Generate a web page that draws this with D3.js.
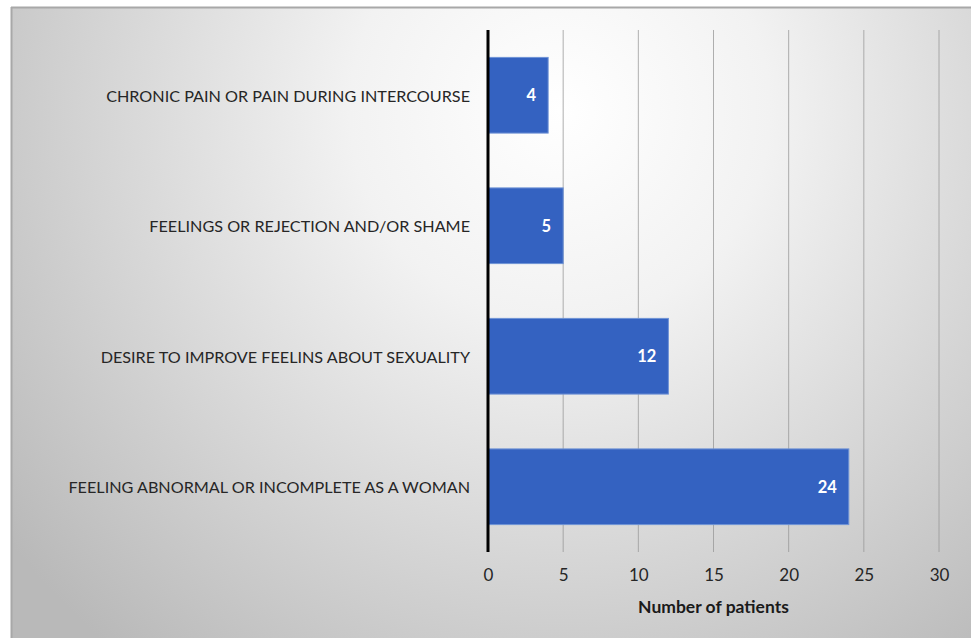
<!DOCTYPE html>
<html><head><meta charset="utf-8">
<script src="https://cdn.jsdelivr.net/npm/d3@7"></script>
<style>
html,body{margin:0;padding:0;background:#fff;}
svg{display:block;}
</style></head>
<body>
<script>
const categories = [
  "CHRONIC PAIN OR PAIN DURING INTERCOURSE",
  "FEELINGS OR REJECTION AND/OR SHAME",
  "DESIRE TO IMPROVE FEELINS ABOUT SEXUALITY",
  "FEELING ABNORMAL OR INCOMPLETE AS A WOMAN"
];
const values = [4, 5, 12, 24];
const xTicks = [0, 5, 10, 15, 20, 25, 30];
const xTitle = "Number of patients";

const W = 971, H = 638;
const svg = d3.select("body").append("svg").attr("width", W).attr("height", H);
const defs = svg.append("defs");
const grad = defs.append("radialGradient").attr("id","bg")
  .attr("gradientUnits","userSpaceOnUse")
  .attr("cx", 560).attr("cy", 110).attr("r", 700);
grad.append("stop").attr("offset","0%").attr("stop-color","#ffffff");
grad.append("stop").attr("offset","30%").attr("stop-color","#f2f2f2");
grad.append("stop").attr("offset","100%").attr("stop-color","#b9b9b9");

svg.append("rect").attr("x",11).attr("y",7).attr("width",W-11).attr("height",H-7)
  .attr("fill","url(#bg)");
svg.append("line").attr("x1",11).attr("x2",W).attr("y1",7.5).attr("y2",7.5).attr("stroke","#a8a8a8").attr("stroke-width",2);
svg.append("line").attr("x1",11.5).attr("x2",11.5).attr("y1",7).attr("y2",H).attr("stroke","#a8a8a8").attr("stroke-width",2);

const x = d3.scaleLinear().domain([0,30]).range([488, 939]);
const y = d3.scaleBand().domain(categories).range([30, 552]).paddingInner(0.42).paddingOuter(0.21);

// gridlines
svg.append("g").selectAll("line").data(xTicks.slice(1)).join("line")
  .attr("x1", d=>x(d)).attr("x2", d=>x(d)).attr("y1",30).attr("y2",552)
  .attr("stroke","#959595").attr("stroke-opacity",0.75).attr("stroke-width",1);

// bars
svg.append("g").selectAll("rect").data(values).join("rect")
  .attr("x", x(0)).attr("y", (d,i)=>y(categories[i]))
  .attr("width", d=>x(d)-x(0)).attr("height", y.bandwidth())
  .attr("fill","#3462c1").attr("stroke","#6f93d6").attr("stroke-width",1);

// value labels
svg.append("g").selectAll("text").data(values).join("text")
  .attr("x", d=>x(d)-12).attr("y",(d,i)=>y(categories[i])+y.bandwidth()/2)
  .attr("text-anchor","end").attr("dominant-baseline","central")
  .attr("fill","#fff").attr("font-weight","bold")
  .attr("font-family","Lato, 'Open Sans', sans-serif").attr("font-size",16.5)
  .text(d=>d);

// y axis line
svg.append("line").attr("x1",x(0)).attr("x2",x(0)).attr("y1",30).attr("y2",552)
  .attr("stroke","#000").attr("stroke-width",3);

// category labels
svg.append("g").selectAll("text").data(categories).join("text")
  .attr("x", 470).attr("y", d=>y(d)+y.bandwidth()/2)
  .attr("text-anchor","end").attr("dominant-baseline","central")
  .attr("fill","#262626")
  .attr("font-family","Lato, 'Open Sans', sans-serif").attr("font-size",16.2)
  .text(d=>d);

// x tick labels
const xAxis = d3.axisBottom(x).tickValues(xTicks).tickSize(0).tickPadding(0);
const gx = svg.append("g").attr("transform","translate(0,569)").call(xAxis);
gx.select(".domain").remove();
gx.selectAll("text").attr("font-family","Lato, 'Open Sans', sans-serif").attr("font-size",17).attr("fill","#262626");

svg.append("text").attr("x", x(15)).attr("y", 606).attr("text-anchor","middle")
  .attr("dominant-baseline","central")
  .attr("font-family","Lato, 'Open Sans', sans-serif").attr("font-size",17.5).attr("font-weight","bold")
  .attr("fill","#1a1a1a").text(xTitle);
</script>
</body></html>
